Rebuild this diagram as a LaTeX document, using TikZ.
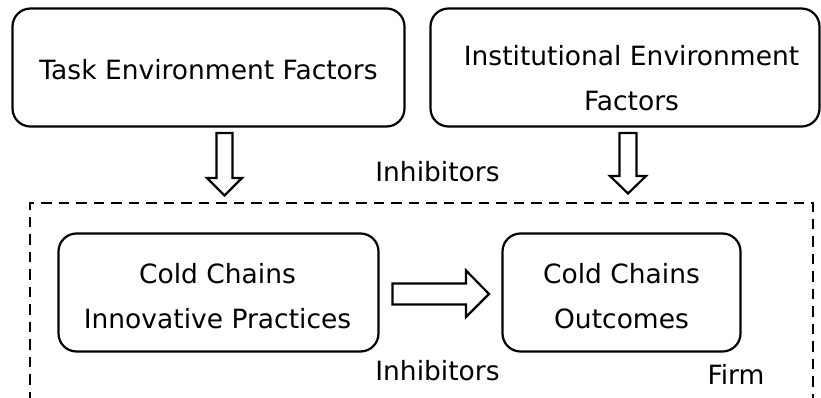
\documentclass[tikz,border=0pt]{standalone}
\usepackage{fontspec}
\setmainfont{DejaVu Sans}
\begin{document}
\begin{tikzpicture}[x=1pt,y=-1pt,
  box/.style={draw,line width=2.2pt,rounded corners=18pt,inner sep=0pt},
  txt/.style={font=\fontsize{26.5}{45}\selectfont,align=center,inner sep=0pt,anchor=base},
  blockarrow/.style={draw,line width=2.2pt,line join=miter,fill=white},
  firm/.style={draw,line width=2.4pt,dash pattern=on 10.5pt off 7pt}]
\useasboundingbox (0,0) rectangle (821,398);
% boxes
\node[box,minimum width=392pt,minimum height=118pt] (task) at (208.5,67.5) {};
\node[box,minimum width=389pt,minimum height=118pt] (inst) at (625,67.5) {};
\node[box,minimum width=320pt,minimum height=118pt] (prac) at (218.5,292.5) {};
\node[box,minimum width=238pt,minimum height=118pt] (outc) at (621.5,292.5) {};
% texts
\node[txt] (tasktxt) at (208.5,80) {Task Environment Factors};
\node[txt] (insttxt) at (631.5,111) {Institutional Environment\\Factors};
\node[txt] (practxt) at (217.5,328) {Cold Chains\\Innovative Practices};
\node[txt] (outctxt) at (621.5,328) {Cold Chains\\Outcomes};
\node[txt] (inhtop) at (437.5,182) {Inhibitors};
\node[txt] (inhbot) at (437.5,380) {Inhibitors};
\node[txt] (firmtxt) at (736,384) {Firm};
% firm boundary
\coordinate (fbl) at (30,402);
\coordinate (ftl) at (30,203);
\coordinate (ftr) at (813,203);
\coordinate (fbr) at (813,402);
\draw[firm] (fbl) -- (ftl) -- (ftr) -- (fbr);
% block arrows
\draw[blockarrow] (216.5,133) -- (232.5,133) -- (232.5,178) -- (242,178) -- (224.5,195.5) -- (207,178) -- (216.5,178) -- cycle;
\draw[blockarrow] (619.5,133) -- (636.5,133) -- (636.5,176) -- (646,176) -- (628,193.5) -- (610,176) -- (619.5,176) -- cycle;
\draw[blockarrow] (392.5,283.5) -- (466,283.5) -- (466,270.5) -- (489,294) -- (466,317) -- (466,304.5) -- (392.5,304.5) -- cycle;
\end{tikzpicture}
\end{document}
